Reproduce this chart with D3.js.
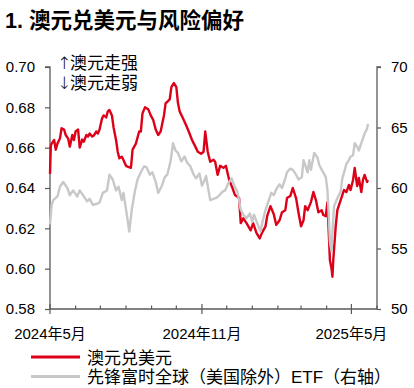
<!DOCTYPE html>
<html>
<head>
<meta charset="utf-8">
<script src="https://cdn.jsdelivr.net/npm/d3@7"></script>
<style>
  body { margin: 0; background: #fff; }
  svg { display: block; }
  text { font-family: "Liberation Sans", Arial, "Noto Sans CJK SC", sans-serif; fill: #000; }
</style>
</head>
<body>
<div id="chart"></div>
<script>
// AUD/USD (left axis)
const audSeries = [
  ["2024-05-01", 0.647], ["2024-05-02", 0.661], ["2024-05-03", 0.662], ["2024-05-06", 0.6638],
  ["2024-05-08", 0.659], ["2024-05-10", 0.662], ["2024-05-13", 0.6645], ["2024-05-15", 0.6696],
  ["2024-05-18", 0.669], ["2024-05-20", 0.6663], ["2024-05-23", 0.6645], ["2024-05-25", 0.6605],
  ["2024-05-28", 0.6663], ["2024-05-30", 0.6638], ["2024-06-01", 0.668], ["2024-06-04", 0.669],
  ["2024-06-06", 0.660], ["2024-06-09", 0.664], ["2024-06-11", 0.663], ["2024-06-14", 0.6663],
  ["2024-06-16", 0.6655], ["2024-06-18", 0.667], ["2024-06-21", 0.6655], ["2024-06-23", 0.666],
  ["2024-06-26", 0.668], ["2024-06-28", 0.667], ["2024-06-30", 0.669], ["2024-07-03", 0.6745],
  ["2024-07-05", 0.676], ["2024-07-08", 0.675], ["2024-07-10", 0.678], ["2024-07-12", 0.6787],
  ["2024-07-15", 0.676], ["2024-07-17", 0.670], ["2024-07-20", 0.6638], ["2024-07-22", 0.658],
  ["2024-07-24", 0.6547], ["2024-07-27", 0.6555], ["2024-07-29", 0.6539], ["2024-08-01", 0.651],
  ["2024-08-03", 0.6506], ["2024-08-07", 0.650], ["2024-08-09", 0.659], ["2024-08-13", 0.662],
  ["2024-08-17", 0.668], ["2024-08-19", 0.668], ["2024-08-21", 0.677], ["2024-08-24", 0.680],
  ["2024-08-28", 0.679], ["2024-08-31", 0.676], ["2024-09-03", 0.6737], ["2024-09-06", 0.669],
  ["2024-09-09", 0.6663], ["2024-09-12", 0.668], ["2024-09-16", 0.676], ["2024-09-18", 0.682],
  ["2024-09-23", 0.684], ["2024-09-25", 0.690], ["2024-09-28", 0.692], ["2024-10-01", 0.690],
  ["2024-10-03", 0.682], ["2024-10-05", 0.678], ["2024-10-09", 0.6746], ["2024-10-13", 0.671],
  ["2024-10-16", 0.668], ["2024-10-20", 0.6638], ["2024-10-24", 0.6605], ["2024-10-27", 0.658],
  ["2024-10-31", 0.657], ["2024-11-03", 0.658], ["2024-11-05", 0.668], ["2024-11-08", 0.658],
  ["2024-11-11", 0.653], ["2024-11-15", 0.654], ["2024-11-17", 0.653], ["2024-11-20", 0.6465],
  ["2024-11-23", 0.651], ["2024-11-27", 0.650], ["2024-11-30", 0.651], ["2024-12-04", 0.644],
  ["2024-12-08", 0.640], ["2024-12-11", 0.6365], ["2024-12-14", 0.6357], ["2024-12-16", 0.635],
  ["2024-12-18", 0.6226], ["2024-12-21", 0.625], ["2024-12-25", 0.6226], ["2024-12-30", 0.619],
  ["2025-01-02", 0.6226], ["2025-01-06", 0.6177], ["2025-01-10", 0.615], ["2025-01-13", 0.618],
  ["2025-01-17", 0.621], ["2025-01-19", 0.626], ["2025-01-23", 0.631], ["2025-01-27", 0.627],
  ["2025-01-30", 0.6217], ["2025-02-03", 0.624], ["2025-02-06", 0.628], ["2025-02-10", 0.629],
  ["2025-02-12", 0.635], ["2025-02-16", 0.636], ["2025-02-19", 0.640], ["2025-02-23", 0.635],
  ["2025-02-26", 0.6276], ["2025-03-01", 0.621], ["2025-03-04", 0.624], ["2025-03-06", 0.631],
  ["2025-03-09", 0.629], ["2025-03-11", 0.631], ["2025-03-13", 0.633], ["2025-03-16", 0.638],
  ["2025-03-19", 0.634], ["2025-03-22", 0.628], ["2025-03-26", 0.629], ["2025-03-28", 0.6266],
  ["2025-03-31", 0.626], ["2025-04-02", 0.633], ["2025-04-04", 0.614], ["2025-04-05", 0.604],
  ["2025-04-07", 0.600], ["2025-04-08", 0.596], ["2025-04-09", 0.604], ["2025-04-12", 0.621],
  ["2025-04-14", 0.629], ["2025-04-18", 0.634], ["2025-04-22", 0.639], ["2025-04-25", 0.638],
  ["2025-04-28", 0.6415], ["2025-04-30", 0.639], ["2025-05-03", 0.644], ["2025-05-05", 0.6499],
  ["2025-05-08", 0.641], ["2025-05-10", 0.645], ["2025-05-13", 0.638], ["2025-05-15", 0.644],
  ["2025-05-17", 0.6465], ["2025-05-20", 0.643], ["2025-05-21", 0.644]
];

// Vanguard FTSE All-World ex-US ETF (right axis)
const etfSeries = [
  ["2024-05-01", 57.0], ["2024-05-03", 58.6], ["2024-05-05", 59.0], ["2024-05-10", 59.3],
  ["2024-05-13", 60.1], ["2024-05-17", 60.5], ["2024-05-22", 60.0], ["2024-05-25", 59.4],
  ["2024-05-29", 59.8], ["2024-06-03", 59.3], ["2024-06-06", 59.8], ["2024-06-10", 59.4],
  ["2024-06-15", 58.9], ["2024-06-18", 59.1], ["2024-06-22", 58.6], ["2024-06-27", 58.7],
  ["2024-06-30", 58.8], ["2024-07-04", 59.6], ["2024-07-09", 59.8], ["2024-07-12", 61.1],
  ["2024-07-16", 60.7], ["2024-07-20", 59.8], ["2024-07-23", 60.1], ["2024-07-27", 59.0],
  ["2024-07-29", 59.6], ["2024-08-02", 57.8], ["2024-08-05", 56.4], ["2024-08-08", 58.2],
  ["2024-08-12", 59.8], ["2024-08-15", 60.7], ["2024-08-19", 61.3], ["2024-08-23", 61.8],
  ["2024-08-26", 61.7], ["2024-08-30", 61.1], ["2024-09-02", 61.3], ["2024-09-06", 60.5],
  ["2024-09-09", 59.6], ["2024-09-13", 60.1], ["2024-09-17", 60.9], ["2024-09-20", 61.1],
  ["2024-09-24", 62.2], ["2024-09-27", 63.7], ["2024-09-30", 63.1], ["2024-10-03", 62.9],
  ["2024-10-07", 62.2], ["2024-10-11", 62.6], ["2024-10-14", 62.1], ["2024-10-18", 61.8],
  ["2024-10-22", 61.1], ["2024-10-25", 60.8], ["2024-10-29", 61.2], ["2024-11-01", 60.2],
  ["2024-11-04", 60.6], ["2024-11-06", 61.0], ["2024-11-08", 60.2], ["2024-11-11", 59.0],
  ["2024-11-15", 59.1], ["2024-11-19", 59.2], ["2024-11-22", 59.4], ["2024-11-26", 59.7],
  ["2024-11-29", 59.8], ["2024-12-03", 60.4], ["2024-12-07", 60.8], ["2024-12-10", 60.2],
  ["2024-12-14", 59.7], ["2024-12-18", 58.2], ["2024-12-21", 57.8], ["2024-12-25", 57.5],
  ["2024-12-29", 57.9], ["2025-01-01", 57.2], ["2025-01-03", 57.8], ["2025-01-07", 57.1],
  ["2025-01-11", 56.4], ["2025-01-13", 57.1], ["2025-01-17", 58.2], ["2025-01-21", 59.0],
  ["2025-01-24", 59.6], ["2025-01-27", 59.4], ["2025-01-30", 59.9], ["2025-02-03", 60.3],
  ["2025-02-06", 60.0], ["2025-02-10", 60.8], ["2025-02-12", 61.3], ["2025-02-16", 61.6],
  ["2025-02-19", 61.5], ["2025-02-23", 61.1], ["2025-02-26", 60.7], ["2025-03-02", 60.9],
  ["2025-03-04", 62.3], ["2025-03-06", 61.9], ["2025-03-09", 61.3], ["2025-03-11", 62.3],
  ["2025-03-13", 61.5], ["2025-03-17", 62.9], ["2025-03-21", 62.5], ["2025-03-23", 61.9],
  ["2025-03-27", 61.4], ["2025-03-31", 60.9], ["2025-04-02", 59.8], ["2025-04-04", 57.1],
  ["2025-04-05", 55.5], ["2025-04-07", 54.8], ["2025-04-08", 56.3], ["2025-04-10", 58.5],
  ["2025-04-13", 59.0], ["2025-04-15", 59.3], ["2025-04-18", 59.7], ["2025-04-20", 60.8],
  ["2025-04-23", 61.5], ["2025-04-25", 62.0], ["2025-04-28", 62.3], ["2025-04-30", 62.6],
  ["2025-05-03", 62.7], ["2025-05-05", 63.7], ["2025-05-08", 63.4], ["2025-05-10", 63.1],
  ["2025-05-13", 63.7], ["2025-05-15", 64.1], ["2025-05-17", 64.5], ["2025-05-20", 64.9],
  ["2025-05-21", 65.3]
];

const leftTicks = [0.58, 0.60, 0.62, 0.64, 0.66, 0.68, 0.70];
const rightTicks = [50, 55, 60, 65, 70];
const xLabels = [["2024-05-01", "2024年5月"], ["2024-11-01", "2024年11月"], ["2025-05-01", "2025年5月"]];
const notes = [["↑", "澳元走强"], ["↓", "澳元走弱"]];
const legendItems = [
  { name: "澳元兑美元", color: "#dc0019" },
  { name: "先锋富时全球（美国除外）ETF（右轴）", color: "#c8c8c8" }
];

const config = {
  width: 414,
  height: 388,
  margin: { top: 67, right: 37, bottom: 79, left: 50 },
  axisColor: "#595959",
};
const { width, height, margin } = config;
const parse = d3.timeParse("%Y-%m-%d");
const fmtDay = d3.timeFormat("%Y-%m-%d");

const aud = audSeries.map(([d, v]) => ({ date: parse(d), value: v }));
const etf = etfSeries.map(([d, v]) => ({ date: parse(d), value: v }));

const svg = d3.select("#chart").append("svg").attr("width", width).attr("height", height);

const x = d3.scaleTime()
  .domain([parse("2024-05-01"), parse("2025-06-01")])
  .range([margin.left, width - margin.right]);
const yL = d3.scaleLinear().domain([0.58, 0.70]).range([height - margin.bottom, margin.top]);
const yR = d3.scaleLinear().domain([50, 70]).range([height - margin.bottom, margin.top]);

// title
svg.append("text")
  .attr("x", 5).attr("y", 28)
  .style("font-size", "21.5px").style("font-weight", "bold")
  .text("1. 澳元兑美元与风险偏好");

// left axis
const gL = svg.append("g")
  .attr("transform", `translate(${margin.left},0)`)
  .call(d3.axisLeft(yL).tickValues(leftTicks).tickFormat(d3.format(".2f")).tickSize(5).tickPadding(10));

// right axis
const gR = svg.append("g")
  .attr("transform", `translate(${width - margin.right},0)`)
  .call(d3.axisRight(yR).tickValues(rightTicks).tickSize(4).tickPadding(10));

// bottom axis: monthly minor ticks inside, labelled majors crossing
const xBase = height - margin.bottom;
const gX = svg.append("g").attr("transform", `translate(0,${xBase})`);
gX.append("line")
  .attr("x1", margin.left).attr("x2", width - margin.right)
  .attr("stroke", config.axisColor).attr("stroke-width", 1.3);
const months = d3.timeMonth.range(parse("2024-05-01"), parse("2025-06-02"));
const majorSet = new Set(xLabels.map((d) => d[0]));
gX.selectAll(".mtick")
  .data(months)
  .join("line")
  .attr("class", "mtick")
  .attr("x1", (d) => x(d)).attr("x2", (d) => x(d))
  .attr("y1", (d) => (majorSet.has(fmtDay(d)) ? 5 : 0))
  .attr("y2", (d) => (majorSet.has(fmtDay(d)) ? -5 : -3.5))
  .attr("stroke", config.axisColor).attr("stroke-width", 1.2);
gX.selectAll(".xlabel")
  .data(xLabels)
  .join("text")
  .attr("class", "xlabel")
  .attr("x", (d) => x(parse(d[0])))
  .attr("y", 30)
  .attr("text-anchor", "middle")
  .style("font-size", "15px")
  .text((d) => d[1]);

[gL, gR].forEach((g) => {
  g.selectAll(".domain").attr("stroke", config.axisColor).attr("stroke-width", 1.3)
    .attr("d", g === gL ? `M-5,${margin.top}H0V${xBase}` : `M4,${margin.top}H0V${xBase}`);
  g.selectAll(".tick line").attr("stroke", config.axisColor).attr("stroke-width", 1.2);
  g.selectAll(".tick text")
    .style("font-size", "15px")
    .style("font-family", '"Liberation Sans", Arial, sans-serif')
    .attr("fill", "#000");
});

// lines
const lineL = d3.line().x((d) => x(d.date)).y((d) => yL(d.value));
const lineR = d3.line().x((d) => x(d.date)).y((d) => yR(d.value));

svg.append("path")
  .datum(aud)
  .attr("d", lineL)
  .attr("fill", "none")
  .attr("stroke", legendItems[0].color)
  .attr("stroke-width", 2.4)
  .attr("stroke-linejoin", "round");

svg.append("path")
  .datum(etf)
  .attr("d", lineR)
  .attr("fill", "none")
  .attr("stroke", legendItems[1].color)
  .attr("stroke-width", 2.4)
  .attr("stroke-linejoin", "round");

// arrow notes
notes.forEach(([arrow, label], i) => {
  const ny = 69 + i * 20;
  svg.append("text").attr("x", 57).attr("y", ny).style("font-size", "17px")
    .style("font-family", '"DejaVu Sans", sans-serif').style("font-weight", "200").text(arrow);
  svg.append("text").attr("x", 70).attr("y", ny).style("font-size", "17px").text(label);
});

// legend
const legend = svg.append("g");
legendItems.forEach((item, i) => {
  const ly = 357 + i * 19.5;
  legend.append("line")
    .attr("x1", 31).attr("x2", 80)
    .attr("y1", ly).attr("y2", ly)
    .attr("stroke", item.color).attr("stroke-width", 3);
  legend.append("text")
    .attr("x", 87).attr("y", ly + 6.5)
    .style("font-size", "17px")
    .text(item.name);
});
</script>
</body>
</html>
